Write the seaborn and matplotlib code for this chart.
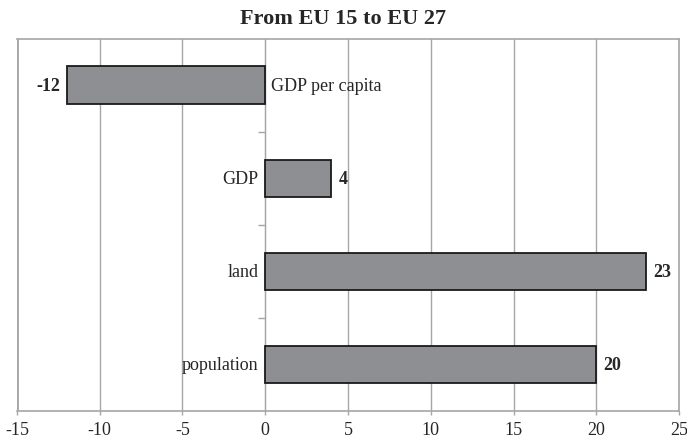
import matplotlib
matplotlib.use("Agg")
import matplotlib.pyplot as plt
import seaborn as sns
import pandas as pd

categories = ["GDP per capita", "GDP", "land", "population"]
values = [-12, 4, 23, 20]
x_ticks = [-15, -10, -5, 0, 5, 10, 15, 20, 25]
title = "From EU 15 to EU 27"

sns.set_style("white")
plt.rcParams["font.family"] = ["Liberation Serif", "DejaVu Serif"]

df = pd.DataFrame({"category": categories, "value": values})

fig = plt.figure(figsize=(6.87, 4.39), dpi=100)
ax = fig.add_axes([0.0247, 0.0615, 0.9637, 0.8485])

sns.barplot(data=df, x="value", y="category", order=categories, orient="h",
            color="#8e8f93", saturation=1, edgecolor="#1a1a1a", linewidth=1.3,
            width=0.4, ax=ax, zorder=3)

grid_col = "#a6a6a6"
ax.set_xlim(x_ticks[0], x_ticks[-1])
ax.set_ylim(3.5, -0.5)
ax.set_xticks(x_ticks)
ax.set_xticklabels([str(t) for t in x_ticks], fontsize=13)
ax.xaxis.grid(True, color=grid_col, linewidth=1.0, zorder=0)
ax.set_axisbelow(True)

# vertical axis sits at zero, with category dividers as outward ticks
ax.spines["left"].set_position(("data", 0))
ax.spines["left"].set_color(grid_col)
ax.spines["left"].set_zorder(1)
ax.set_yticks([0.5, 1.5, 2.5])
ax.set_yticklabels([])
ax.tick_params(axis="y", which="both", direction="out", length=5,
               color=grid_col, width=1, left=True)
ax.tick_params(axis="x", direction="out", length=3, color=grid_col,
               width=1, bottom=True, pad=4)
for side in ["top", "right", "bottom"]:
    ax.spines[side].set_color(grid_col)
    ax.spines[side].set_linewidth(1.2)
ax.axvline(x_ticks[0], color=grid_col, linewidth=2.0, zorder=0)

ax.set_xlabel("")
ax.set_ylabel("")

# category names beside the zero line, value labels at the bar ends
for i, (cat, val) in enumerate(zip(categories, values)):
    if val >= 0:
        ax.annotate(cat, (0, i), xytext=(-5, 0), textcoords="offset points",
                    ha="right", va="center", fontsize=13)
        ax.annotate(f"{val}", (val, i), xytext=(5, 0), textcoords="offset points",
                    ha="left", va="center", fontsize=13, fontweight="bold")
    else:
        ax.annotate(cat, (0, i), xytext=(4.5, 0), textcoords="offset points",
                    ha="left", va="center", fontsize=13)
        ax.annotate(f"{val}", (val, i), xytext=(-4.5, 0), textcoords="offset points",
                    ha="right", va="center", fontsize=13, fontweight="bold")

fig.suptitle(title, x=0.5, y=0.98, fontsize=16, fontweight="bold")

fig.savefig("out.png", dpi=100)
